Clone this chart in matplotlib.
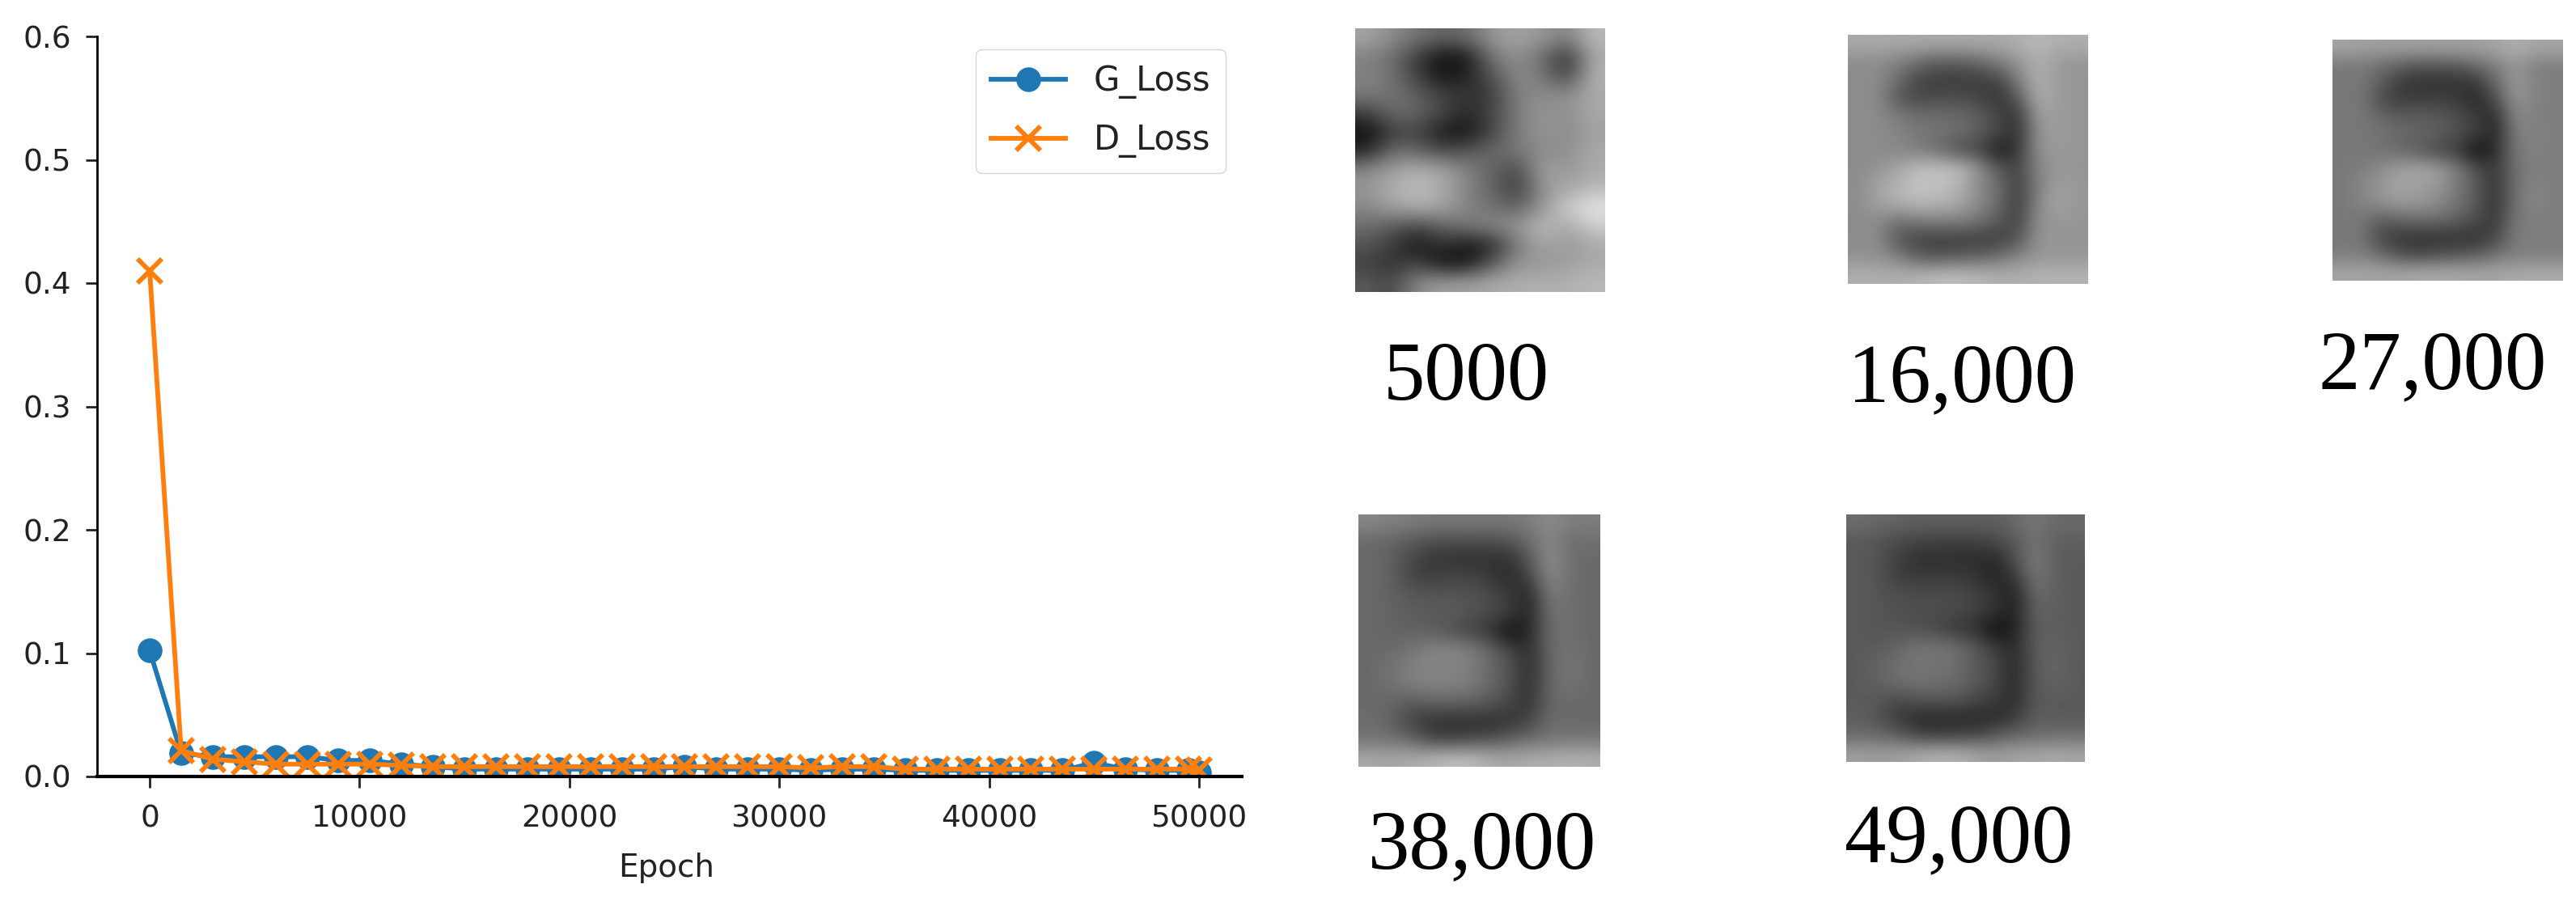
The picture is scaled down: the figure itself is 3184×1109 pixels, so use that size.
import numpy as np
import matplotlib
matplotlib.use('Agg')
import matplotlib.pyplot as plt

W, H = 3184, 1109

epochs = [0, 1500, 3000, 4500, 6000, 7500, 9000, 10500, 12000, 13500, 15000, 16500,
          18000, 19500, 21000, 22500, 24000, 25500, 27000, 28500, 30000, 31500, 33000,
          34500, 36000, 37500, 39000, 40500, 42000, 43500, 45000, 46500, 48000, 49500, 50000]
g_loss = [0.102, 0.019, 0.016, 0.016, 0.016, 0.016, 0.013, 0.013, 0.010, 0.008, 0.006, 0.006,
          0.006, 0.006, 0.006, 0.006, 0.006, 0.008, 0.006, 0.006, 0.006, 0.005, 0.006,
          0.006, 0.005, 0.005, 0.005, 0.005, 0.005, 0.005, 0.011, 0.006, 0.005, 0.005, 0.003]
d_loss = [0.410, 0.021, 0.014, 0.012, 0.010, 0.010, 0.010, 0.010, 0.009, 0.008, 0.008, 0.008,
          0.008, 0.008, 0.008, 0.008, 0.008, 0.008, 0.008, 0.008, 0.008, 0.007, 0.008,
          0.008, 0.006, 0.006, 0.006, 0.006, 0.006, 0.006, 0.006, 0.006, 0.006, 0.006, 0.005]
y_ticks = [0.0, 0.1, 0.2, 0.3, 0.4, 0.5, 0.6]
x_ticks = [0, 10000, 20000, 30000, 40000, 50000]

panel_labels = ['5000', '16,000', '27,000', '38,000', '49,000']

# rough gray levels
img_5000 = [[165, 140, 115, 100, 110, 150, 165, 150, 130, 185],
            [130, 110, 60, 15, 25, 120, 145, 110, 45, 170],
            [130, 115, 60, 20, 35, 85, 140, 120, 60, 180],
            [125, 115, 95, 65, 50, 60, 130, 140, 140, 170],
            [60, 110, 100, 70, 40, 70, 125, 150, 140, 170],
            [15, 60, 70, 25, 20, 70, 125, 150, 140, 160],
            [35, 110, 100, 70, 85, 105, 120, 140, 140, 170],
            [135, 160, 175, 165, 130, 100, 70, 165, 150, 170],
            [150, 175, 190, 170, 130, 100, 55, 150, 165, 185],
            [135, 160, 175, 165, 130, 115, 95, 150, 205, 230],
            [110, 90, 70, 100, 120, 135, 150, 190, 165, 205],
            [85, 60, 20, 50, 20, 40, 125, 165, 150, 170],
            [65, 50, 70, 15, 25, 90, 150, 150, 160, 170],
            [90, 70, 140, 160, 160, 170, 175, 175, 175, 185]]
img_16000 = [[170, 170, 170, 170, 170, 170, 170, 170, 175, 185, 175, 175],
             [140, 140, 130, 110, 95, 95, 105, 125, 150, 175, 155, 150],
             [140, 140, 110, 70, 60, 60, 60, 70, 125, 180, 155, 150],
             [140, 140, 85, 70, 75, 75, 70, 50, 90, 175, 155, 150],
             [140, 140, 120, 110, 110, 105, 95, 70, 50, 160, 155, 150],
             [140, 140, 135, 120, 115, 110, 95, 70, 45, 150, 155, 150],
             [140, 140, 135, 125, 110, 80, 70, 25, 55, 145, 155, 150],
             [140, 145, 165, 190, 195, 190, 150, 90, 65, 135, 150, 150],
             [140, 165, 180, 195, 190, 180, 140, 110, 60, 130, 160, 150],
             [140, 160, 175, 185, 180, 170, 140, 110, 55, 140, 165, 150],
             [140, 140, 110, 120, 125, 125, 115, 90, 65, 145, 150, 150],
             [140, 140, 85, 65, 60, 60, 60, 60, 85, 150, 150, 150],
             [145, 145, 130, 95, 85, 95, 100, 115, 135, 150, 150, 150],
             [175, 175, 175, 180, 190, 190, 185, 175, 175, 180, 180, 180]]
img_27000 = [[165, 160, 160, 160, 160, 160, 160, 160, 165, 175, 165, 165],
             [120, 120, 110, 95, 85, 85, 90, 105, 125, 150, 130, 125],
             [120, 120, 95, 60, 50, 50, 50, 55, 105, 155, 130, 125],
             [120, 120, 75, 60, 65, 65, 60, 40, 75, 150, 130, 125],
             [120, 120, 105, 95, 95, 90, 80, 60, 40, 135, 130, 125],
             [120, 120, 115, 105, 100, 95, 80, 60, 38, 125, 130, 125],
             [120, 120, 115, 105, 95, 70, 60, 15, 45, 120, 130, 125],
             [120, 125, 140, 160, 165, 160, 125, 80, 55, 115, 125, 125],
             [120, 135, 150, 165, 160, 150, 120, 90, 50, 110, 135, 125],
             [120, 130, 145, 155, 150, 140, 115, 90, 48, 115, 135, 125],
             [120, 120, 90, 100, 105, 105, 95, 75, 55, 120, 125, 125],
             [120, 120, 70, 55, 50, 50, 50, 50, 70, 125, 125, 125],
             [125, 125, 110, 80, 70, 80, 85, 95, 115, 125, 125, 125],
             [165, 165, 165, 165, 170, 170, 170, 165, 165, 170, 170, 170]]
img_38000 = [[135, 130, 125, 120, 120, 120, 120, 120, 125, 140, 125, 125],
             [105, 100, 90, 80, 75, 75, 75, 85, 105, 135, 110, 110],
             [105, 100, 75, 55, 50, 50, 50, 45, 90, 145, 110, 105],
             [105, 100, 70, 65, 70, 70, 60, 40, 65, 140, 110, 105],
             [105, 100, 90, 85, 85, 85, 75, 60, 35, 125, 110, 105],
             [105, 100, 95, 90, 90, 85, 75, 60, 35, 115, 110, 105],
             [105, 100, 100, 95, 85, 65, 55, 10, 40, 110, 110, 105],
             [105, 105, 115, 130, 135, 130, 105, 70, 45, 105, 115, 105],
             [105, 115, 125, 135, 130, 125, 105, 85, 42, 105, 120, 105],
             [105, 110, 125, 130, 130, 125, 105, 80, 45, 105, 115, 105],
             [105, 105, 85, 95, 95, 95, 85, 70, 50, 105, 105, 105],
             [110, 100, 70, 50, 45, 45, 45, 50, 70, 110, 105, 105],
             [115, 115, 105, 75, 65, 75, 80, 100, 110, 115, 120, 120],
             [170, 165, 170, 180, 190, 190, 175, 165, 175, 175, 180, 175]]
img_49000 = [[110, 105, 100, 95, 95, 95, 95, 95, 105, 120, 105, 105],
             [90, 85, 75, 68, 65, 65, 65, 72, 90, 115, 95, 95],
             [90, 85, 65, 48, 45, 45, 45, 38, 80, 125, 95, 90],
             [90, 85, 62, 58, 60, 60, 52, 35, 58, 120, 95, 90],
             [90, 85, 80, 75, 75, 75, 65, 52, 30, 110, 95, 90],
             [90, 85, 82, 78, 78, 75, 65, 52, 30, 100, 95, 90],
             [90, 85, 85, 82, 72, 55, 48, 10, 35, 95, 95, 90],
             [90, 90, 100, 115, 118, 112, 90, 60, 40, 95, 100, 90],
             [90, 100, 110, 118, 115, 110, 90, 72, 38, 90, 105, 90],
             [90, 95, 110, 115, 112, 108, 90, 70, 40, 90, 100, 90],
             [90, 90, 72, 82, 85, 85, 72, 60, 42, 90, 90, 90],
             [95, 85, 60, 45, 40, 40, 40, 42, 60, 95, 90, 90],
             [105, 105, 95, 68, 60, 65, 70, 88, 100, 105, 110, 110],
             [160, 155, 160, 170, 178, 178, 165, 155, 165, 165, 170, 165]]
panel_images = [img_5000, img_16000, img_27000, img_38000, img_49000]


def px_axes(fig, x0, y0, x1, y1):
    # pixel box measured from top left of the picture
    return fig.add_axes([x0 / W, 1 - y1 / H, (x1 - x0) / W, (y1 - y0) / H])


fig = plt.figure(figsize=(W / 100, H / 100), dpi=100, facecolor='white')

ax = px_axes(fig, 120, 45, 1535, 960)
ax.plot(epochs, g_loss, color='#1f77b4', marker='o', lw=4.2, ms=21, label='G_Loss')
ax.plot(epochs, d_loss, color='#ff7f0e', marker='x', lw=4.2, ms=21, mew=4.2, label='D_Loss')
ax.set_xlim(-2506, 52043)
ax.set_ylim(0, 0.6)
ax.set_xticks(x_ticks)
ax.set_yticks(y_ticks)
ax.tick_params(labelsize=27, length=10, width=2, colors='#222222')
ax.tick_params(axis='x', pad=15)
ax.tick_params(axis='y', pad=13)
ax.set_xlabel('Epoch', fontsize=28, color='#222222', labelpad=17)
ax.xaxis.label.set_x(0.4975)
for side in ['top', 'right']:
    ax.spines[side].set_visible(False)
ax.spines['left'].set_linewidth(2)
ax.spines['bottom'].set_linewidth(3)
ax.legend(loc='upper right', bbox_to_anchor=(0.986, 0.983), fontsize=30, handlelength=2.2,
          handletextpad=0.85, labelspacing=0.72, borderpad=0.45, labelcolor='#222222',
          borderaxespad=0)

# pixel boxes of thumbnails and centres of their captions
boxes = [(1675, 35, 1984, 361), (2284, 43, 2581, 351), (2883, 49, 3168, 347),
         (1679, 636, 1978, 948), (2282, 636, 2577, 942)]
label_pos = [(1812, 469), (2425, 471), (3007, 455), (1832, 1048), (2421, 1040)]

for img, box, label, pos in zip(panel_images, boxes, panel_labels, label_pos):
    a = px_axes(fig, *box)
    a.imshow(np.array(img), cmap='gray', vmin=0, vmax=255, aspect='auto', interpolation='bicubic')
    a.axis('off')
    fig.text(pos[0] / W, 1 - pos[1] / H, label, fontsize=74, family='Liberation Serif',
             ha='center', va='center', color='black')

fig.savefig('out.png', dpi=100)
